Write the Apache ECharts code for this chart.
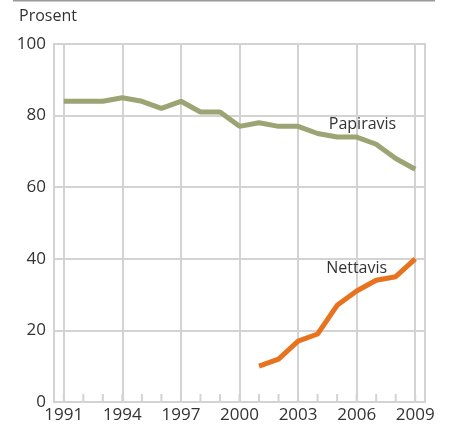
<!DOCTYPE html>
<html><head><meta charset="utf-8">
<script src="https://cdn.jsdelivr.net/npm/echarts@6/dist/echarts.min.js"></script>
<style>html,body{margin:0;padding:0;background:#fff}#c{width:450px;height:427px}</style>
</head><body><div id="c"></div>
<script>
const years = [1991,1992,1993,1994,1995,1996,1997,1998,1999,2000,2001,2002,2003,2004,2005,2006,2007,2008,2009];
const labelYears = [1991,1994,1997,2000,2003,2006,2009];
const papiravis = [84,84,84,85,84,82,84,81,81,77,78,77,77,75,74,74,72,68,65];
const nettavisYears = [2001,2002,2003,2004,2005,2006,2007,2008,2009];
const nettavis = [10,12,17,19,27,31,34,35,40];
const yTicks = [0,20,40,60,80,100];
const unitLabel = 'Prosent';
const seriesNames = ['Papiravis','Nettavis'];

const FONT = 'Open Sans';
const grey = '#d3d3d3';
const chart = echarts.init(document.getElementById('c'), null, {renderer:'canvas'});
chart.setOption({
  animation:false,
  graphic:[
    {type:'line', shape:{x1:13,y1:0.5,x2:435,y2:0.5}, style:{stroke:'#9a9a9a',lineWidth:2}},
    {type:'text', left:19, top:8, style:{text:unitLabel, font:'16px "'+FONT+'"', fill:'#333'}}
  ],
  grid:{left:54,right:25,top:44,bottom:25,show:true,borderColor:grey,borderWidth:2},
  xAxis:{
    type:'value', min:1990.5, max:2009.5,
    axisLine:{show:false},
    axisTick:{show:false, customValues:labelYears},
    axisLabel:{customValues:labelYears, color:'#333', fontFamily:FONT, fontSize:17, margin:5, formatter:v=>String(v)},
    splitLine:{show:true, lineStyle:{color:grey,width:2}}
  },
  yAxis:{
    type:'value', min:0, max:100, interval:20,
    axisLine:{show:false}, axisTick:{show:false},
    axisLabel:{color:'#333', fontFamily:FONT, fontSize:17, margin:8},
    splitLine:{show:true, lineStyle:{color:grey,width:2}}
  },
  series:[{
    name:'ticks', type:'custom', silent:true, z:1,
    data:years.map(y=>[y,0]),
    renderItem:function(params, api){
      const p = api.coord([api.value(0), 0]);
      return {type:'line', shape:{x1:p[0],y1:p[1],x2:p[0],y2:p[1]-8}, style:{stroke:grey,lineWidth:2}};
    }
  },{
    name:seriesNames[0], type:'line', z:3,
    data:years.map((y,i)=>[y,papiravis[i]]),
    showSymbol:false, lineStyle:{color:'#9ba472',width:5}, itemStyle:{color:'#9ba472'},
    markPoint:{symbol:'circle',symbolSize:0,
      data:[{coord:[2006.3,77.6], label:{show:true, formatter:seriesNames[0], color:'#333', fontFamily:FONT, fontSize:16, position:'inside'}}]}
  },{
    name:seriesNames[1], type:'line', z:3,
    data:nettavisYears.map((y,i)=>[y,nettavis[i]]),
    showSymbol:false, lineStyle:{color:'#e8731e',width:5}, itemStyle:{color:'#e8731e'},
    markPoint:{symbol:'circle',symbolSize:0,
      data:[{coord:[2006.0,37.4], label:{show:true, formatter:seriesNames[1], color:'#333', fontFamily:FONT, fontSize:16, position:'inside'}}]}
  }]
});
</script></body></html>
